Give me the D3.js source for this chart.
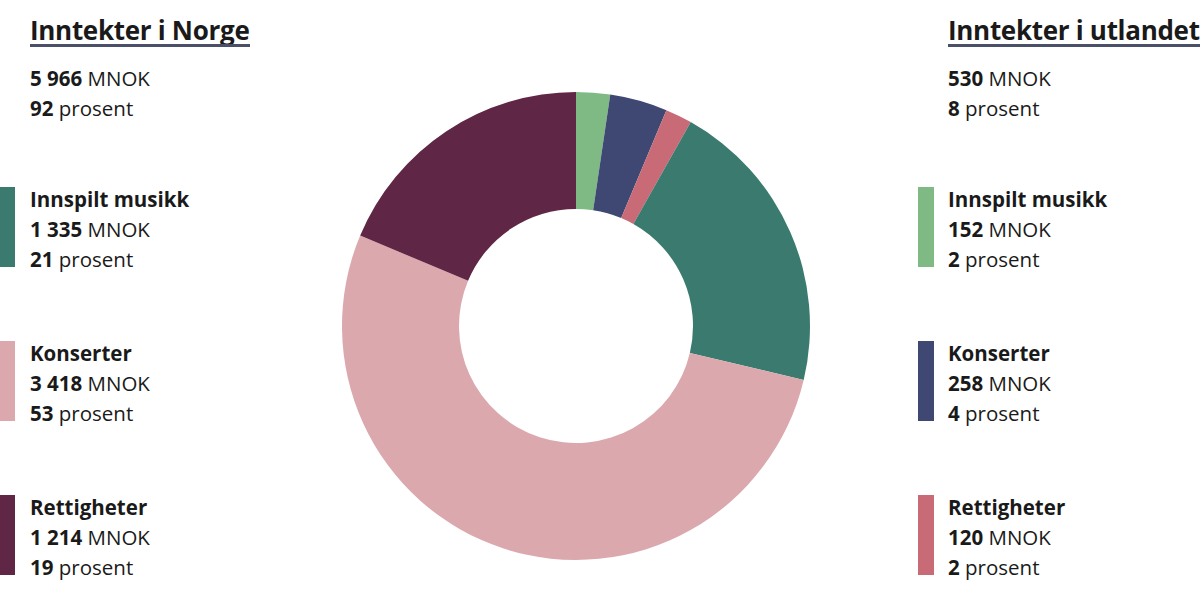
<!DOCTYPE html>
<html><head><meta charset="utf-8">
<script src="https://cdn.jsdelivr.net/npm/d3@7"></script>
<style>body{margin:0;background:#fff}svg{display:block}text{font-family:"Open Sans",Lato,sans-serif;fill:#1a1a1a}</style>
</head><body><svg id="c" width="1200" height="595"></svg>
<script>
const groups = ["Inntekter i Norge", "Inntekter i utlandet"];
const groupTotals = ["5 966", "530"];
const groupPercents = ["92", "8"];
const categories = ["Innspilt musikk", "Konserter", "Rettigheter"];
const norgeValues = [1335, 3418, 1214];
const norgeLabels = ["1 335", "3 418", "1 214"];
const norgePercents = ["21", "53", "19"];
const utlandValues = [152, 258, 120];
const utlandLabels = ["152", "258", "120"];
const utlandPercents = ["2", "4", "2"];
const norgeColors = ["#3b7b6f", "#dba8ad", "#5f2745"];
const utlandColors = ["#7fba84", "#3f4873", "#c96b76"];

const svg = d3.select("#c");
const slices = [];
utlandValues.forEach((v,i)=>slices.push({v, c: utlandColors[i]}));
norgeValues.forEach((v,i)=>slices.push({v, c: norgeColors[i]}));
const pie = d3.pie().value(d=>d.v).sort(null);
const arc = d3.arc().innerRadius(117).outerRadius(234);
svg.append("g").attr("transform","translate(576,326)")
  .selectAll("path").data(pie(slices)).join("path")
  .attr("d", arc).attr("fill", d=>d.data.c);

const FS = 20.5;
function block(x, barX, gi, labels, pcts, colors, ulEnd){
  const g = svg.append("g");
  g.append("text").attr("x",x).attr("y",40).attr("font-size",26).attr("font-weight",700).attr("letter-spacing",-0.3).text(groups[gi]);
  g.append("rect").attr("x",x).attr("y",44).attr("width",ulEnd-x).attr("height",3).attr("fill","#4a5068");
  const t1 = g.append("text").attr("x",x).attr("y",86).attr("font-size",FS);
  t1.append("tspan").attr("font-weight",700).text(groupTotals[gi]);
  t1.append("tspan").text(" MNOK");
  const t2 = g.append("text").attr("x",x).attr("y",116).attr("font-size",FS);
  t2.append("tspan").attr("font-weight",700).text(groupPercents[gi]);
  t2.append("tspan").text(" prosent");
  categories.forEach((cat,i)=>{
    const y0 = 187 + i*154;
    g.append("rect").attr("x",barX).attr("y",y0).attr("width",16).attr("height",80).attr("fill",colors[i]);
    g.append("text").attr("x",x).attr("y",y0+20).attr("font-size",FS).attr("font-weight",700).text(cat);
    const a = g.append("text").attr("x",x).attr("y",y0+50).attr("font-size",FS);
    a.append("tspan").attr("font-weight",700).text(labels[i]);
    a.append("tspan").text(" MNOK");
    const b = g.append("text").attr("x",x).attr("y",y0+80).attr("font-size",FS);
    b.append("tspan").attr("font-weight",700).text(pcts[i]);
    b.append("tspan").text(" prosent");
  });
}
block(30, -1, 0, norgeLabels, norgePercents, norgeColors, 250);
block(948, 918, 1, utlandLabels, utlandPercents, utlandColors, 1200);
</script></body></html>
